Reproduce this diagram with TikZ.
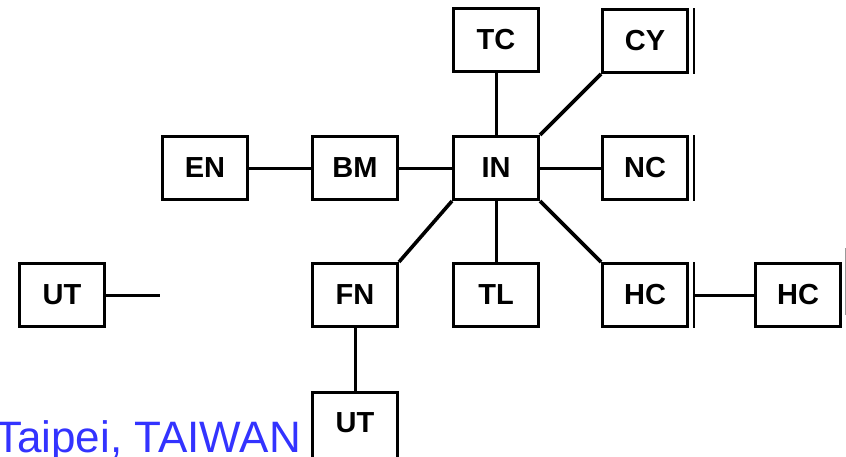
\documentclass[tikz,border=0pt]{standalone}
\usepackage{fontspec}
\setmainfont{Liberation Sans}
\usetikzlibrary{calc}
\begin{document}
\begin{tikzpicture}[x=1pt,y=-1pt,
  unit/.style={draw=black,line width=3pt,minimum width=85pt,minimum height=63pt,
    inner sep=0pt,font=\fontsize{29}{29}\selectfont\bfseries},
  link/.style={line width=3pt,black},
  diag/.style={line width=3.6pt,black},
  bar/.style={line width=2.6pt,black}]
\useasboundingbox (0,0) rectangle (846,456);

% units
\node[unit] (TC)  at (496,40)  {TC};
\node[unit] (CY)  at (645,41)  {CY};
\node[unit] (EN)  at (205,168) {EN};
\node[unit] (BM)  at (355,168) {BM};
\node[unit] (IN)  at (496,168) {IN};
\node[unit] (NC)  at (645,168) {NC};
\node[unit] (UTa) at (62,295)  {UT};
\node[unit] (FN)  at (355,295) {FN};
\node[unit] (TL)  at (496,295) {TL};
\node[unit] (HCa) at (645,295) {HC};
\node[unit] (HCb) at (798,295) {HC};
% lower unit runs past the bottom edge
\node[unit,minimum height=80pt,text height=21pt,text depth=21pt] (UTb) at (355,432) {UT};

% connectors
\draw[link] (TC) -- (IN);
\draw[link] (EN) -- (BM);
\draw[link] (BM) -- (IN);
\draw[link] (IN) -- (NC);
\draw[link] (IN) -- (TL);
\draw[link] (FN) -- (UTb);
\draw[diag] (IN.north east) -- (CY.south west);
\draw[diag] (IN.south east) -- (HCa.north west);
\draw[diag] (IN.south west) -- (FN.north east);
\coordinate (UTend) at (160,295);
\draw[link] (UTa) -- (UTend);

% extra edge bars
\draw[bar] ([xshift=5pt]CY.north east) -- ([xshift=5pt]CY.south east);
\draw[bar] ([xshift=5pt]NC.north east) -- ([xshift=5pt]NC.south east);
\draw[bar] ([xshift=5pt]HCa.north east) coordinate (HCbarT) -- ([xshift=5pt]HCa.south east) coordinate (HCbarB);
\coordinate (HCbarM) at ($(HCbarT)!0.5!(HCbarB)$);
\draw[link] (HCbarM) -- (HCb.west);
\draw[line width=1pt,black!40] (845,248) -- (845,315);

% caption
\node[anchor=base east,inner sep=0pt,text=blue!80!white,
  font=\fontsize{44}{44}\selectfont] (cap) at (301,452) {Taipei, TAIWAN};
\end{tikzpicture}
\end{document}
